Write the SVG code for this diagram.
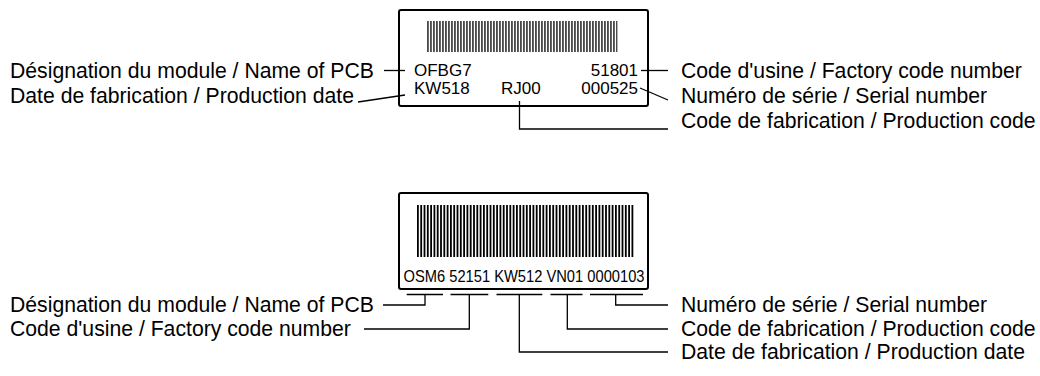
<svg xmlns="http://www.w3.org/2000/svg" width="1040" height="376" viewBox="0 0 1040 376">
<style>
.lbl{font-family:"Liberation Sans",Arial,sans-serif;font-size:21.2px;fill:#000}
.code{font-family:"Liberation Sans",Arial,sans-serif;font-size:17px;fill:#000}
.box{fill:#fff;stroke:#000;stroke-width:2}
.bar{stroke:#000;fill:none}
.con{stroke:#000;stroke-width:1.3;fill:none}
</style>
<rect width="1040" height="376" fill="#fff"/>
<g id="label-top">
<rect class="box" x="399" y="10" width="249" height="96" rx="2"/>
<line class="bar" x1="427.3" y1="36.5" x2="617.3" y2="36.5" stroke-width="31" stroke-dasharray="1.3 1.7"/>
<text class="code" x="414" y="76">OFBG7</text>
<text class="code" x="638" y="76" text-anchor="end">51801</text>
<text class="code" x="414" y="94">KW518</text>
<text class="code" x="501" y="94">RJ00</text>
<text class="code" x="638" y="94" text-anchor="end">000525</text>
</g>
<g id="label-bottom">
<rect class="box" x="399" y="193" width="249" height="96" rx="2"/>
<line class="bar" x1="417" y1="231" x2="633.3" y2="231" stroke-width="52" stroke-dasharray="1.8 1.5"/>
<text class="code" x="403.5" y="282" textLength="241" lengthAdjust="spacingAndGlyphs">OSM6 52151 KW512 VN01 0000103</text>
</g>
<g id="top-name"><text class="lbl" x="10" y="78">Désignation du module / Name of PCB</text></g>
<g id="top-date"><text class="lbl" x="10" y="103">Date de fabrication / Production date</text></g>
<g id="top-factory"><text class="lbl" x="681" y="78">Code d'usine / Factory code number</text></g>
<g id="top-serial"><text class="lbl" x="681" y="103">Numéro de série / Serial number</text></g>
<g id="top-prodcode"><text class="lbl" x="681" y="128">Code de fabrication / Production code</text></g>
<g id="bottom-name"><text class="lbl" x="10" y="312">Désignation du module / Name of PCB</text></g>
<g id="bottom-factory"><text class="lbl" x="10" y="336">Code d'usine / Factory code number</text></g>
<g id="bottom-serial"><text class="lbl" x="681" y="312">Numéro de série / Serial number</text></g>
<g id="bottom-prodcode"><text class="lbl" x="681" y="336">Code de fabrication / Production code</text></g>
<g id="bottom-date"><text class="lbl" x="681" y="359">Date de fabrication / Production date</text></g>
<g id="connectors">
<line class="con" x1="384" y1="70.5" x2="405" y2="70.5"/>
<line class="con" x1="358" y1="102" x2="405" y2="95"/>
<line class="con" x1="641" y1="70.5" x2="668" y2="70.5"/>
<line class="con" x1="640" y1="88" x2="668" y2="100"/>
<polyline class="con" points="519.5,101 519.5,129 668,129"/>
<line class="con" x1="406.7" y1="294.5" x2="443" y2="294.5"/>
<line class="con" x1="450.5" y1="294.5" x2="488.3" y2="294.5"/>
<line class="con" x1="496.5" y1="294.5" x2="542.3" y2="294.5"/>
<line class="con" x1="550.5" y1="294.5" x2="582.5" y2="294.5"/>
<line class="con" x1="590" y1="294.5" x2="643" y2="294.5"/>
<polyline class="con" points="425,294.5 425,305 383,305"/>
<polyline class="con" points="469.3,294.5 469.3,329 364,329"/>
<polyline class="con" points="519.3,294.5 519.3,352 668,352"/>
<polyline class="con" points="567.3,294.5 567.3,329 668,329"/>
<polyline class="con" points="615.7,294.5 615.7,305 668,305"/>
</g>
</svg>
